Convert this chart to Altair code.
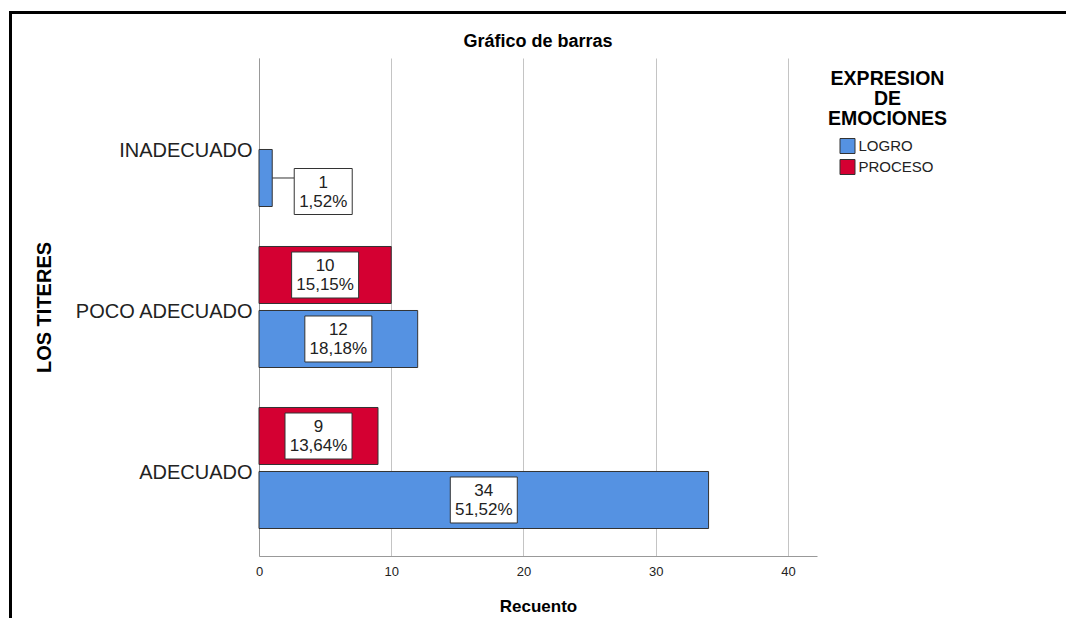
import altair as alt
import pandas as pd

FONT = "Liberation Sans"

categories = ["INADECUADO", "POCO ADECUADO", "ADECUADO"]
series_names = ["LOGRO", "PROCESO"]
logro_counts = [1, 12, 34]
proceso_counts = [None, 10, 9]
x_ticks = [0, 10, 20, 30, 40]
colors = ["#5592E2", "#D40032"]

rows = []
for cat, l, p in zip(categories, logro_counts, proceso_counts):
    rows.append((cat, "LOGRO", l))
    rows.append((cat, "PROCESO", p))
total = sum(v for _, _, v in rows if v)
records = []
for cat, s, v in rows:
    if v is None:
        continue
    pct = f"{v / total * 100:.2f}".replace(".", ",") + "%"
    records.append({"cat": cat, "serie": s, "value": v, "label": f"{v}\n{pct}"})
df = pd.DataFrame(records)

y_enc = alt.Y(
    "cat:N",
    sort=categories,
    scale=alt.Scale(paddingInner=0, paddingOuter=0.0466),
    title="LOS TITERES",
    axis=alt.Axis(
        labelFontSize=20, labelColor="#222", labelPadding=7, labelLimit=400,
        labelOffset=5,
        ticks=False, domainColor="#999", domainWidth=1,
        titleFontSize=20, titleFontWeight="bold", titleColor="black", titlePadding=20,
    ),
)
yoff_enc = alt.YOffset(
    "serie:N",
    scale=alt.Scale(domain=["PROCESO", "LOGRO"], paddingInner=0.109, paddingOuter=0.3125),
)
x_enc = alt.X(
    "value:Q",
    scale=alt.Scale(domain=[0, 42.2], nice=False, zero=True),
    title="Recuento",
    axis=alt.Axis(
        values=x_ticks, grid=True, gridColor="#c4c4c4", gridWidth=1,
        ticks=False, domainColor="#999", labelFontSize=13, labelColor="#222",
        labelPadding=9, labelFlush=False,
        titleFontSize=17, titleFontWeight="bold", titleColor="black",
        titlePadding=20,
    ),
)

base = alt.Chart(df)

bars = base.mark_bar(stroke="#333", strokeWidth=1).encode(
    x=x_enc,
    y=y_enc,
    yOffset=yoff_enc,
    color=alt.Color(
        "serie:N",
        scale=alt.Scale(domain=series_names, range=colors),
        title=["EXPRESION", "DE", "EMOCIONES"],
        legend=alt.Legend(
            orient="none", legendX=568.5, legendY=11.5, padding=0,
            titleFontSize=19.5, titleFontWeight="bold", titleColor="black",
            titleAlign="center", titleAnchor="middle", titleLineHeight=20, titlePadding=9,
            symbolType="square", symbolSize=225, symbolStrokeColor="#333",
            symbolStrokeWidth=1, symbolOpacity=1, symbolOffset=-2,
            labelFontSize=15, labelColor="#222", labelOffset=3, rowPadding=1,
        ),
    ),
)

PATH_IN = "M-1,-0.6866L1,-0.6866L1,0.6866L-1,0.6866Z"
PATH_OUT = "M-1,-0.7931L1,-0.7931L1,0.7931L-1,0.7931Z"

inside = base.transform_filter("datum.value >= 3").transform_calculate(mid="datum.value / 2")
box_in = inside.mark_point(
    shape=PATH_IN, size=4489, filled=True, fill="white", stroke="#333",
    strokeWidth=1, opacity=1,
).encode(x="mid:Q", y=alt.Y("cat:N", sort=categories), yOffset=yoff_enc)
text_in = inside.mark_text(
    lineBreak="\n", fontSize=17, align="center", baseline="middle",
    color="#222", lineHeight=19, dy=-9,
).encode(x="mid:Q", y=alt.Y("cat:N", sort=categories), yOffset=yoff_enc, text="label:N")

outside = base.transform_filter("datum.value < 3")
connector = outside.mark_rule(color="#333", strokeWidth=1, x2Offset=22).encode(
    x="value:Q", x2="value:Q", y=alt.Y("cat:N", sort=categories), yOffset=yoff_enc
)
box_out = outside.mark_point(
    shape=PATH_OUT, size=3364, filled=True, fill="white", stroke="#333",
    strokeWidth=1, opacity=1, xOffset=51, yOffset=45.5,
).encode(x="value:Q", y=alt.Y("cat:N", sort=categories))
text_out = outside.mark_text(
    lineBreak="\n", fontSize=17, align="center", baseline="middle",
    color="#222", lineHeight=19, xOffset=51, yOffset=36.5,
).encode(x="value:Q", y=alt.Y("cat:N", sort=categories), text="label:N")

frame_df = pd.DataFrame({"k": [0]})
frame_top = alt.Chart(frame_df).mark_rule(color="black", strokeWidth=3).encode(
    x=alt.value(-250), x2=alt.value(810), y=alt.value(-45.5)
)
frame_left = alt.Chart(frame_df).mark_rule(color="black", strokeWidth=3).encode(
    x=alt.value(-248.5), y=alt.value(-47), y2=alt.value(565)
)

chart = alt.layer(
    bars, connector, box_in, text_in, box_out, text_out, frame_top, frame_left
).properties(
    width=558,
    height=498,
    title=alt.TitleParams(
        "Gráfico de barras", fontSize=18, fontWeight="bold", color="black",
        anchor="middle", baseline="alphabetic", offset=-55.5, font=FONT,
    ),
    padding={"left": 251, "top": 50, "right": 249, "bottom": 62},
    autosize=alt.AutoSizeParams(type="none"),
    background="white",
).configure(font=FONT).configure_view(strokeWidth=0)

chart.save("out.html", embed_options={"renderer": "svg", "actions": False})
